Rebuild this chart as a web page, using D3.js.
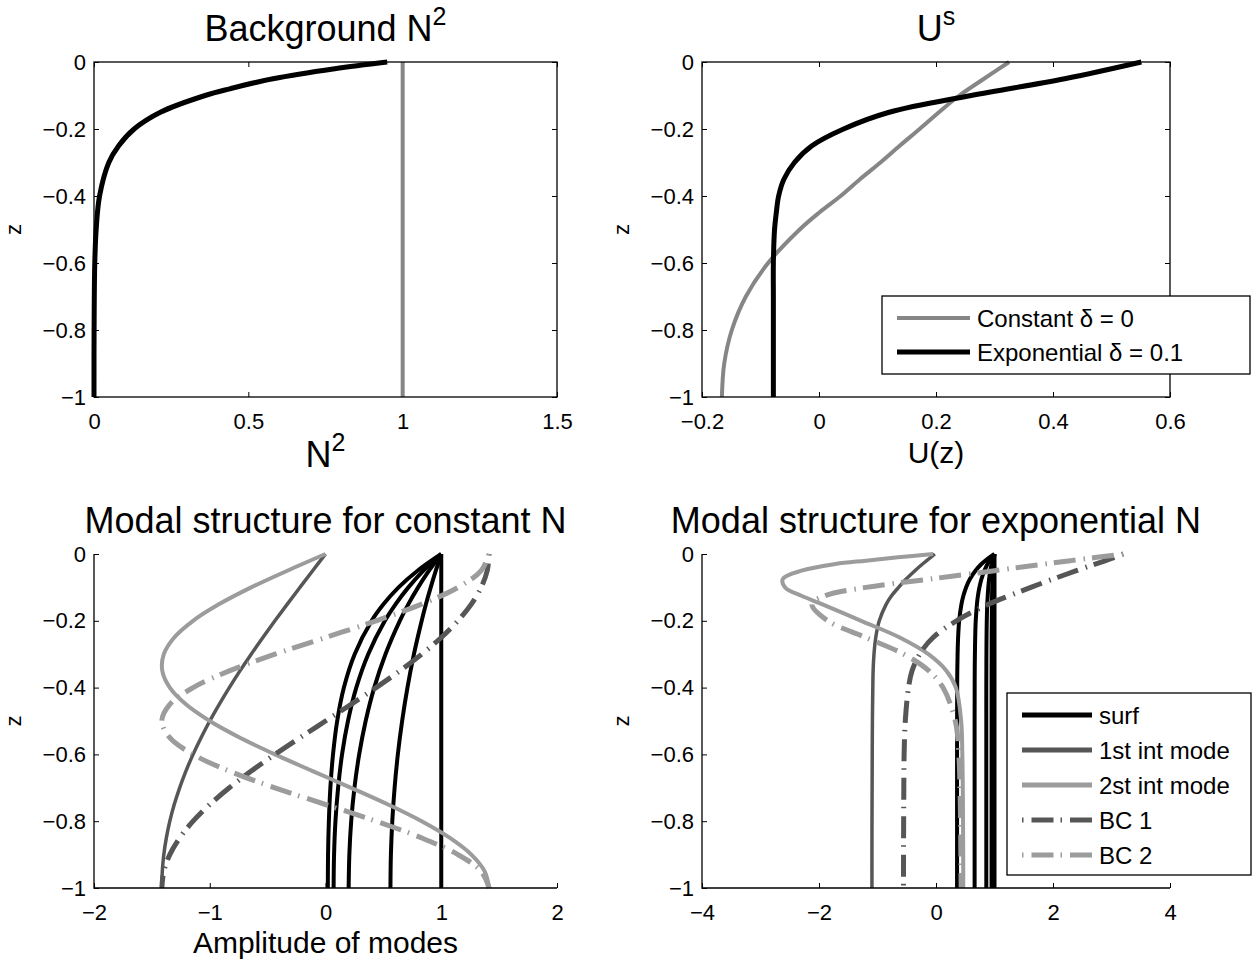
<!DOCTYPE html>
<html><head><meta charset="utf-8">
<script src="https://cdn.jsdelivr.net/npm/d3@7"></script>
<style>
body{margin:0;background:#fff}
text{font-family:"Liberation Sans",Arial,Helvetica,sans-serif;fill:#000}
</style>
</head><body>
<svg id="chart" width="1260" height="963"></svg>
<script>
// ---------------- data ----------------
// Panel 1: background N^2
const depthN2 = [0, -0.02, -0.05, -0.08, -0.1, -0.15, -0.2, -0.25, -0.3, -0.4, -0.5, -0.6, -0.8, -1];
const n2Exponential = [0.95, 0.78, 0.58, 0.44, 0.36, 0.215, 0.13, 0.08, 0.048, 0.018, 0.007, 0.0025, 0.0003, 0];
const depthEnds = [0, -1];
const n2Constant = [1, 1];

// Panel 2: U^s
const depthU = [0, -0.05, -0.1, -0.15, -0.2, -0.25, -0.3, -0.35, -0.4, -0.45, -0.5, -0.6, -0.7, -0.8, -0.9, -1];
const uConstant = [0.325, 0.282, 0.24, 0.205, 0.172, 0.138, 0.105, 0.07, 0.037, 0.0, -0.033, -0.087, -0.125, -0.149, -0.162, -0.166];
const uExponential = [0.551, 0.42, 0.26, 0.12, 0.042, -0.012, -0.042, -0.06, -0.069, -0.073, -0.076, -0.078, -0.078, -0.078, -0.078, -0.078];

// Panel 3: modal structure, constant N
const depthSurfC = [0, -0.05, -0.1, -0.15, -0.2, -0.3, -0.4, -0.5, -0.6, -0.7, -0.8, -0.9, -1];
const surfC1 = [1, 1, 1, 1, 1, 1, 1, 1, 1, 1, 1, 1, 1];
const surfC2 = [1, 0.953, 0.909, 0.868, 0.831, 0.764, 0.708, 0.662, 0.625, 0.597, 0.577, 0.565, 0.561];
const surfC3 = [1, 0.894, 0.800, 0.716, 0.642, 0.518, 0.421, 0.347, 0.291, 0.250, 0.222, 0.206, 0.200];
const surfC4 = [1, 0.846, 0.716, 0.606, 0.513, 0.369, 0.266, 0.194, 0.143, 0.109, 0.086, 0.074, 0.070];
const surfC5 = [1, 0.795, 0.631, 0.502, 0.399, 0.252, 0.159, 0.101, 0.065, 0.042, 0.029, 0.022, 0.020];
const depthModesC = [0, -0.05, -0.1, -0.15, -0.2, -0.25, -0.3, -0.35, -0.4, -0.45, -0.5, -0.55, -0.6, -0.65, -0.7, -0.75, -0.8, -0.85, -0.9, -0.95, -1];
const mode1C = [0, -0.111, -0.221, -0.330, -0.437, -0.541, -0.642, -0.739, -0.831, -0.918, -1.000, -1.075, -1.144, -1.206, -1.260, -1.307, -1.345, -1.375, -1.397, -1.410, -1.414];
const mode2C = [0, -0.330, -0.642, -0.918, -1.144, -1.307, -1.397, -1.410, -1.345, -1.206, -1.000, -0.739, -0.437, -0.111, 0.221, 0.541, 0.831, 1.075, 1.260, 1.375, 1.414];
const bc1C = [1.414, 1.397, 1.345, 1.260, 1.144, 1.000, 0.831, 0.642, 0.437, 0.221, 0, -0.221, -0.437, -0.642, -0.831, -1.000, -1.144, -1.260, -1.345, -1.397, -1.414];
const bc2C = [1.414, 1.345, 1.144, 0.831, 0.437, 0, -0.437, -0.831, -1.144, -1.345, -1.414, -1.345, -1.144, -0.831, -0.437, 0, 0.437, 0.831, 1.144, 1.345, 1.414];

// Panel 4: modal structure, exponential N
const depthExp = [0, -0.01, -0.02, -0.03, -0.05, -0.075, -0.1, -0.125, -0.15, -0.2, -0.25, -0.3, -0.35, -0.4, -0.5, -0.6, -0.7, -0.8, -0.9, -1];
const surfE1 = [1, 1, 1, 1, 1, 1, 1, 1, 1, 1, 1, 1, 1, 1, 1, 1, 1, 1, 1, 1];
const surfE2 = [1, 0.993, 0.988, 0.983, 0.975, 0.967, 0.962, 0.958, 0.956, 0.953, 0.951, 0.951, 0.95, 0.95, 0.95, 0.95, 0.95, 0.95, 0.95, 0.95];
const surfE3 = [1, 0.981, 0.965, 0.951, 0.929, 0.908, 0.894, 0.884, 0.876, 0.868, 0.864, 0.862, 0.861, 0.86, 0.86, 0.86, 0.86, 0.86, 0.86, 0.86];
const surfE4 = [1, 0.955, 0.915, 0.881, 0.827, 0.777, 0.742, 0.717, 0.700, 0.679, 0.670, 0.665, 0.662, 0.661, 0.66, 0.66, 0.66, 0.66, 0.66, 0.66];
const surfE5 = [1, 0.915, 0.841, 0.777, 0.674, 0.580, 0.514, 0.468, 0.435, 0.396, 0.378, 0.369, 0.364, 0.362, 0.361, 0.36, 0.36, 0.36, 0.36, 0.36];
const mode1E = [-0.02, -0.09, -0.16, -0.23, -0.36, -0.51, -0.64, -0.76, -0.85, -0.97, -1.03, -1.06, -1.075, -1.08, -1.087, -1.09, -1.092, -1.094, -1.095, -1.095];
const mode2E = [-0.05, -0.65, -1.2, -1.72, -2.3, -2.62, -2.58, -2.3, -1.95, -1.28, -0.62, -0.13, 0.18, 0.34, 0.43, 0.45, 0.458, 0.462, 0.465, 0.466];
const bc1E = [3.2, 3.05, 2.9, 2.72, 2.4, 2.0, 1.62, 1.25, 0.9, 0.35, -0.05, -0.28, -0.41, -0.47, -0.525, -0.545, -0.55, -0.553, -0.555, -0.556];
const bc2E = [3.2, 2.75, 2.3, 1.85, 1.0, -0.1, -1.2, -1.9, -2.12, -1.85, -1.2, -0.55, -0.12, 0.12, 0.33, 0.39, 0.41, 0.42, 0.425, 0.43];

// ticks
const zTicks = [0, -0.2, -0.4, -0.6, -0.8, -1];
const zTickLabels = ["0", "\u22120.2", "\u22120.4", "\u22120.6", "\u22120.8", "\u22121"];
const n2Ticks = [0, 0.5, 1, 1.5];
const n2TickLabels = ["0", "0.5", "1", "1.5"];
const uTicks = [-0.2, 0, 0.2, 0.4, 0.6];
const uTickLabels = ["\u22120.2", "0", "0.2", "0.4", "0.6"];
const ampTicksC = [-2, -1, 0, 1, 2];
const ampTickLabelsC = ["\u22122", "\u22121", "0", "1", "2"];
const ampTicksE = [-4, -2, 0, 2, 4];
const ampTickLabelsE = ["\u22124", "\u22122", "0", "2", "4"];

// legend labels
const legendU = ["Constant \u03b4 = 0", "Exponential \u03b4 = 0.1"];
const legendModes = ["surf", "1st int mode", "2st int mode", "BC 1", "BC 2"];

// ---------------- styles ----------------
const BLACK = "#000000", GRAY = "#868686", DARK = "#565656", LIGHT = "#9c9c9c";
const DASHDOT = "1.5,8,22,7";

const svg = d3.select("#chart");
svg.append("rect").attr("width", 1260).attr("height", 963).attr("fill", "#fff");

function makePanel(p) {
  const g = svg.append("g");
  const x = d3.scaleLinear().domain(p.xDomain).range([p.left, p.right]);
  const y = d3.scaleLinear().domain([-1, 0]).range([p.bottom, p.top]);
  const tl = 5;

  const xa = d3.axisBottom(x).tickValues(p.xTicks).tickFormat((d, i) => p.xLabels[i])
    .tickSizeInner(-tl).tickSizeOuter(0).tickPadding(16.5);
  const ya = d3.axisLeft(y).tickValues(zTicks).tickFormat((d, i) => zTickLabels[i])
    .tickSizeInner(-tl).tickSizeOuter(0).tickPadding(8);
  const gx = g.append("g").attr("transform", `translate(0,${p.bottom})`).call(xa);
  const gy = g.append("g").attr("transform", `translate(${p.left},0)`).call(ya);
  [gx, gy].forEach(a => {
    a.select(".domain").remove();
    a.selectAll("line").attr("stroke", "#000").attr("stroke-width", 1);
    a.selectAll("text").style("font-size", "22px").attr("fill", "#000");
  });
  if (p.box) {
    const gt = g.append("g").attr("transform", `translate(0,${p.top})`)
      .call(d3.axisTop(x).tickValues(p.xTicks).tickFormat("").tickSizeInner(-tl).tickSizeOuter(0));
    const gr = g.append("g").attr("transform", `translate(${p.right},0)`)
      .call(d3.axisRight(y).tickValues(zTicks).tickFormat("").tickSizeInner(-tl).tickSizeOuter(0));
    [gt, gr].forEach(a => { a.select(".domain").remove(); a.selectAll("line").attr("stroke", "#000"); });
  }

  const line = d3.line().x(d => x(d[0])).y(d => y(d[1])).curve(d3.curveCatmullRom.alpha(0.5));
  p.series.forEach(s => {
    const pts = s.values.map((v, i) => [v, s.depth[i]]);
    g.append("path").attr("d", line(pts)).attr("fill", "none")
      .attr("stroke", s.color).attr("stroke-width", s.width)
      .attr("stroke-dasharray", s.dash || null)
      .attr("stroke-linejoin", "round").attr("stroke-linecap", "butt");
  });

  const fr = g.append("g");
  if (p.box) {
    fr.append("rect").attr("x", p.left).attr("y", p.top)
      .attr("width", p.right - p.left).attr("height", p.bottom - p.top)
      .attr("fill", "none").attr("stroke", "#000").attr("stroke-width", 1.3);
  } else {
    fr.append("path").attr("d", `M${p.left},${p.top}V${p.bottom}H${p.right}`)
      .attr("fill", "none").attr("stroke", "#000").attr("stroke-width", 1.3);
  }

  const cx = (p.left + p.right) / 2;
  const t = g.append("text").attr("x", cx).attr("y", p.top - 21)
    .attr("text-anchor", "middle").style("font-size", "36px");
  t.append("tspan").text(p.title);
  if (p.titleSup) t.append("tspan").attr("dy", -16).style("font-size", "25px").text(p.titleSup);

  if (p.xlabel) {
    const xl = g.append("text").attr("x", cx).attr("y", p.bottom + p.xlabelDy)
      .attr("text-anchor", "middle").style("font-size", p.xlabelSize + "px");
    xl.append("tspan").text(p.xlabel);
    if (p.xlabelSup) xl.append("tspan").attr("dy", -16).style("font-size", "25px").text(p.xlabelSup);
  }
  g.append("text").attr("transform", `translate(${p.left - 81},${(p.top + p.bottom) / 2}) rotate(-90)`)
    .attr("text-anchor", "middle").attr("dy", "0.35em").style("font-size", "22px").text("z");

  if (p.legend) {
    const L = p.legend;
    const lg = g.append("g");
    lg.append("rect").attr("x", L.x).attr("y", L.y).attr("width", L.w).attr("height", L.h)
      .attr("fill", "#fff").attr("stroke", "#000").attr("stroke-width", 1.3);
    L.items.forEach((it, i) => {
      const yy = L.y + L.first + i * L.step;
      lg.append("line").attr("x1", L.x + 15).attr("x2", L.x + 15 + L.len).attr("y1", yy).attr("y2", yy)
        .attr("stroke", it.color).attr("stroke-width", it.width).attr("stroke-dasharray", it.dash || null);
      lg.append("text").attr("x", L.x + 22 + L.len).attr("y", yy).attr("dy", "0.36em")
        .style("font-size", "24px").text(it.label);
    });
  }
}

makePanel({
  left: 94, right: 557, top: 62, bottom: 397, box: true,
  xDomain: [0, 1.5], xTicks: n2Ticks, xLabels: n2TickLabels,
  title: "Background N", titleSup: "2", xlabel: "N", xlabelSup: "2", xlabelDy: 70, xlabelSize: 36,
  series: [
    { depth: depthN2, values: n2Exponential, color: BLACK, width: 5 },
    { depth: depthEnds, values: n2Constant, color: GRAY, width: 4 }
  ]
});

makePanel({
  left: 702, right: 1170, top: 62, bottom: 397, box: true,
  xDomain: [-0.2, 0.6], xTicks: uTicks, xLabels: uTickLabels,
  title: "U", titleSup: "s", xlabel: "U(z)", xlabelDy: 66, xlabelSize: 30,
  series: [
    { depth: depthU, values: uConstant, color: GRAY, width: 4 },
    { depth: depthU, values: uExponential, color: BLACK, width: 5 }
  ],
  legend: { x: 882, y: 296, w: 368, h: 78, first: 22, step: 34, len: 73,
    items: [
      { label: legendU[0], color: GRAY, width: 4 },
      { label: legendU[1], color: BLACK, width: 5 }
    ] }
});

makePanel({
  left: 94, right: 557, top: 554, bottom: 888, box: false,
  xDomain: [-2, 2], xTicks: ampTicksC, xLabels: ampTickLabelsC,
  title: "Modal structure for constant N", xlabel: "Amplitude of modes", xlabelDy: 65, xlabelSize: 30,
  series: [
    { depth: depthSurfC, values: surfC1, color: BLACK, width: 4 },
    { depth: depthSurfC, values: surfC2, color: BLACK, width: 4 },
    { depth: depthSurfC, values: surfC3, color: BLACK, width: 4 },
    { depth: depthSurfC, values: surfC4, color: BLACK, width: 4 },
    { depth: depthSurfC, values: surfC5, color: BLACK, width: 4 },
    { depth: depthModesC, values: mode1C, color: DARK, width: 3.5 },
    { depth: depthModesC, values: mode2C, color: LIGHT, width: 4 },
    { depth: depthModesC, values: bc1C, color: DARK, width: 5, dash: DASHDOT },
    { depth: depthModesC, values: bc2C, color: LIGHT, width: 5, dash: DASHDOT }
  ]
});

makePanel({
  left: 702, right: 1170, top: 554, bottom: 888, box: false,
  xDomain: [-4, 4], xTicks: ampTicksE, xLabels: ampTickLabelsE,
  title: "Modal structure for exponential N",
  series: [
    { depth: depthExp, values: surfE1, color: BLACK, width: 4 },
    { depth: depthExp, values: surfE2, color: BLACK, width: 4 },
    { depth: depthExp, values: surfE3, color: BLACK, width: 4 },
    { depth: depthExp, values: surfE4, color: BLACK, width: 4 },
    { depth: depthExp, values: surfE5, color: BLACK, width: 4 },
    { depth: depthExp, values: mode1E, color: DARK, width: 3.5 },
    { depth: depthExp, values: mode2E, color: LIGHT, width: 4 },
    { depth: depthExp, values: bc1E, color: DARK, width: 5, dash: DASHDOT },
    { depth: depthExp, values: bc2E, color: LIGHT, width: 5, dash: DASHDOT }
  ],
  legend: { x: 1007, y: 693, w: 244, h: 182, first: 22, step: 35, len: 70,
    items: [
      { label: legendModes[0], color: BLACK, width: 5 },
      { label: legendModes[1], color: DARK, width: 5 },
      { label: legendModes[2], color: LIGHT, width: 5 },
      { label: legendModes[3], color: DARK, width: 5, dash: DASHDOT },
      { label: legendModes[4], color: LIGHT, width: 5, dash: DASHDOT }
    ] }
});
</script>
</body></html>
